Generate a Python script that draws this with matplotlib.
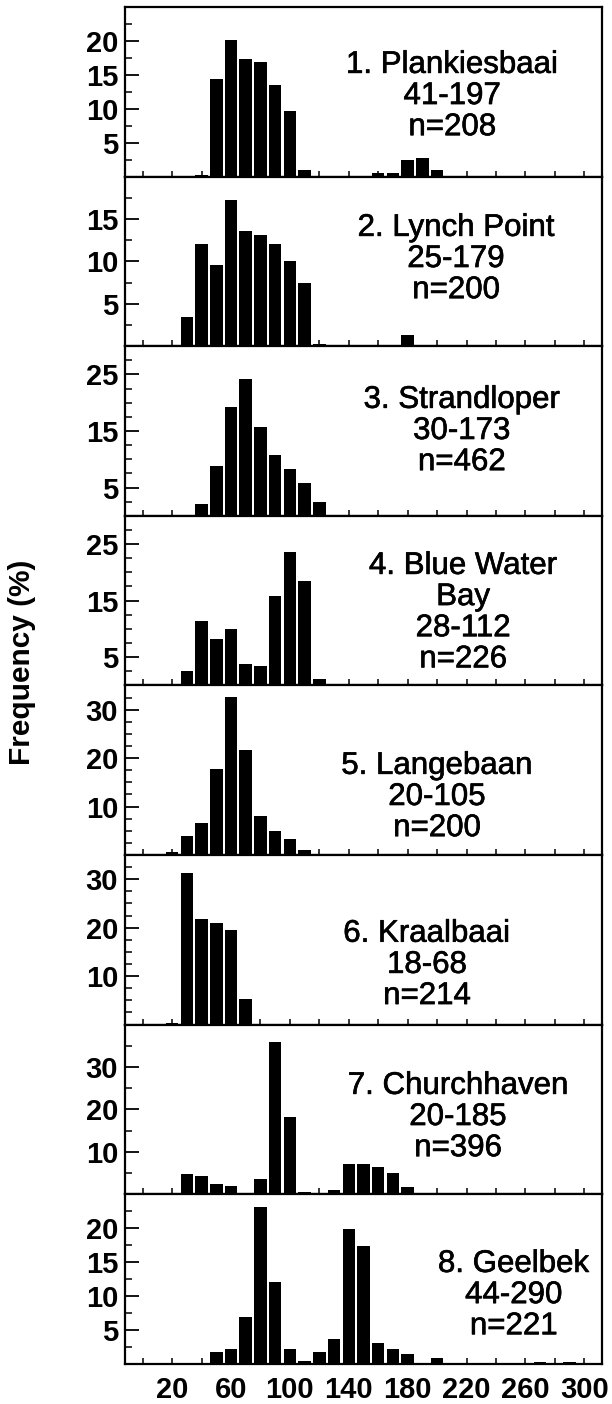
import matplotlib
matplotlib.use("Agg")
import matplotlib.pyplot as plt
import matplotlib.patheffects as pe
from matplotlib.ticker import MultipleLocator

plt.rcParams['font.family'] = ['Liberation Sans', 'DejaVu Sans']

# ------------------------------
# DATA (shell length bins, % frequency)
# ------------------------------
site_names = ["1. Plankiesbaai", "2. Lynch Point", "3. Strandloper", "4. Blue Water\nBay",
              "5. Langebaan", "6. Kraalbaai", "7. Churchhaven", "8. Geelbek"]
size_ranges = ["41-197", "25-179", "30-173", "28-112", "20-105", "18-68", "20-185", "44-290"]
sample_sizes = [208, 200, 462, 226, 200, 214, 396, 221]

plank_len = [40, 50, 60, 70, 80, 90, 100, 110, 160, 170, 180, 190, 200]
plank_freq = [0.3, 14.4, 20.2, 17.4, 16.9, 13.5, 9.7, 1.0, 0.5, 0.5, 2.4, 2.8, 0.9]

lynch_len = [30, 40, 50, 60, 70, 80, 90, 100, 110, 120, 180]
lynch_freq = [3.5, 12.1, 9.6, 17.2, 13.6, 13.1, 12.1, 10.0, 7.5, 0.3, 1.3]

strand_len = [40, 50, 60, 70, 80, 90, 100, 110, 120]
strand_freq = [2.1, 8.8, 19.2, 24.2, 15.7, 10.8, 8.2, 5.8, 2.4]

blue_len = [30, 40, 50, 60, 70, 80, 90, 100, 110, 120]
blue_freq = [2.5, 11.4, 8.2, 10.0, 3.8, 3.4, 15.8, 23.6, 18.4, 1.1]

lange_len = [20, 30, 40, 50, 60, 70, 80, 90, 100, 110]
lange_freq = [0.55, 4.0, 6.6, 17.7, 32.6, 21.7, 8.1, 4.9, 3.4, 1.0]

kraal_len = [20, 30, 40, 50, 60, 70]
kraal_freq = [0.3, 31.3, 21.8, 21.0, 19.6, 5.2]

church_len = [20, 30, 40, 50, 60, 80, 90, 100, 110, 130, 140, 150, 160, 170, 180]
church_freq = [0.3, 4.8, 4.3, 2.4, 2.0, 3.5, 35.9, 18.3, 0.5, 0.9, 7.1, 7.1, 6.4, 4.9, 1.8]

geel_len = [50, 60, 70, 80, 90, 100, 110, 120, 130, 140, 150, 160, 170, 180, 200, 270, 290]
geel_freq = [1.7, 2.2, 6.9, 23.1, 12.1, 2.2, 0.4, 1.7, 3.6, 19.9, 17.3, 3.1, 2.2, 1.4, 0.85, 0.3, 0.3]

lengths = [plank_len, lynch_len, strand_len, blue_len, lange_len, kraal_len, church_len, geel_len]
freqs = [plank_freq, lynch_freq, strand_freq, blue_freq, lange_freq, kraal_freq, church_freq, geel_freq]

x_labels = [20, 60, 100, 140, 180, 220, 260, 300]

# ------------------------------
# PANEL LAYOUT
# ------------------------------
y_max = [25, 20, 30, 30, 35, 35, 40, 25]
y_major = [[5, 10, 15, 20], [5, 10, 15], [5, 15, 25], [5, 15, 25],
           [10, 20, 30], [10, 20, 30], [10, 20, 30], [5, 10, 15, 20]]
y_minor = [2.5, 2.5, 2.5, 2.5, 2.5, 2.5, 5, 2.5]
text_pos = [(0.686, 0.475), (0.694, 0.514), (0.706, 0.50), (0.709, 0.429),
            (0.654, 0.342), (0.633, 0.352), (0.698, 0.455), (0.815, 0.405)]

W, H = 612, 1404
left_px, right_px, top_px = 125, 602, 7
panel_h = 169.6

fig = plt.figure(figsize=(W / 100, H / 100), dpi=100)
heavy = [pe.withStroke(linewidth=0.45, foreground="black")]

for i in range(8):
    bottom = 1 - (top_px + (i + 1) * panel_h) / H
    ax = fig.add_axes([left_px / W, bottom, (right_px - left_px) / W, panel_h / H])

    ax.bar(lengths[i], freqs[i], width=8.5, color="black")

    ax.set_xlim(-12, 312)
    ax.set_ylim(0, y_max[i])
    ax.set_yticks(y_major[i])
    ax.yaxis.set_minor_locator(MultipleLocator(y_minor[i]))
    ax.set_xticks(x_labels)
    ax.xaxis.set_minor_locator(MultipleLocator(20))

    ax.tick_params(axis="y", which="major", direction="in", length=10, width=1.3,
                   labelsize=21, pad=5)
    ax.tick_params(axis="y", which="minor", direction="in", length=5, width=1.1)
    ax.tick_params(axis="x", which="both", direction="in", length=4, width=1.1,
                   labelsize=21, pad=9)
    if i < 7:
        ax.tick_params(axis="x", labelbottom=False)

    for lbl in ax.get_yticklabels() + ax.get_xticklabels():
        lbl.set_fontweight("bold")

    for sp in ax.spines.values():
        sp.set_linewidth(1.6)

    tx, ty = text_pos[i]
    ax.text(tx, ty, f"{site_names[i]}\n{size_ranges[i]}\nn={sample_sizes[i]}",
            transform=ax.transAxes, ha="center", va="center",
            fontsize=22.5, linespacing=1.05, path_effects=heavy)

fig.text(22 / W, 1 - 662 / H, "Frequency (%)", rotation=90, ha="center", va="center",
         fontsize=21.5, fontweight="bold")

fig.savefig("out.png", dpi=100)
